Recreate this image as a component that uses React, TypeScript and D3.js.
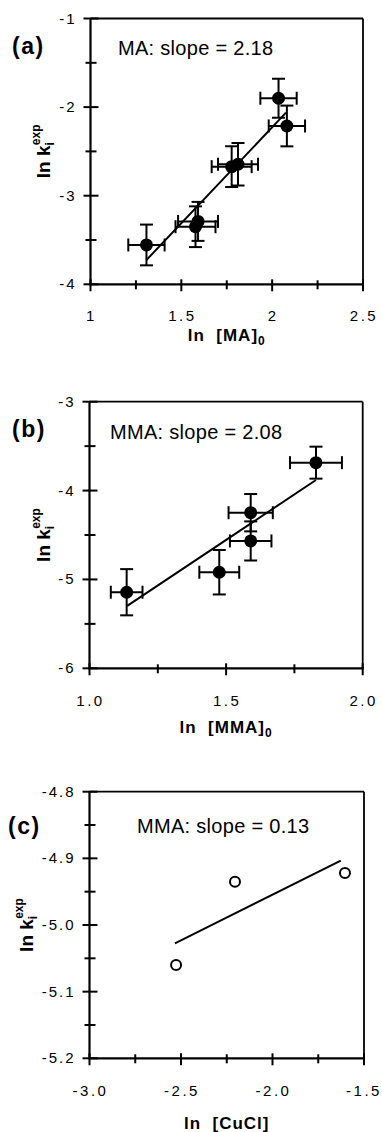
import React from 'react';
import * as d3 from 'd3';

const FONT = "'Liberation Sans', Arial, Helvetica, sans-serif";

// ---------- Panel (a): MA ----------
const aX = [1.308, 1.578, 1.592, 1.777, 1.812, 2.035, 2.081];
const aY = [-3.556, -3.35, -3.29, -2.672, -2.645, -1.9, -2.213];
const aXErr = [0.1, 0.11, 0.11, 0.11, 0.11, 0.1, 0.1];
const aYErr = [0.23, 0.23, 0.22, 0.23, 0.24, 0.22, 0.23];
const aFitX = [1.308, 2.076];
const aFitY = [-3.726, -2.063];
const aXTicks = [1, 1.5, 2, 2.5];
const aXTickLabels = ['1', '1.5', '2', '2.5'];
const aXMinor = [1.25, 1.75, 2.25];
const aYTicks = [-1, -2, -3, -4];
const aYTickLabels = ['-1', '-2', '-3', '-4'];
const aYMinor = [-1.5, -2.5, -3.5];

// ---------- Panel (b): MMA ----------
const bX = [1.136, 1.475, 1.59, 1.59, 1.829];
const bY = [-5.144, -4.919, -4.249, -4.567, -3.686];
const bXErr = [0.058, 0.073, 0.081, 0.076, 0.095];
const bYErr = [0.26, 0.25, 0.21, 0.22, 0.18];
const bFitX = [1.138, 1.829];
const bFitY = [-5.298, -3.881];
const bXTicks = [1.0, 1.5, 2.0];
const bXTickLabels = ['1.0', '1.5', '2.0'];
const bXMinor = [1.25, 1.75];
const bYTicks = [-3, -4, -5, -6];
const bYTickLabels = ['-3', '-4', '-5', '-6'];
const bYMinor = [-3.5, -4.5, -5.5];

// ---------- Panel (c): CuCl ----------
const cX = [-2.527, -2.205, -1.604];
const cY = [-5.06, -4.935, -4.922];
const cFitX = [-2.533, -1.627];
const cFitY = [-5.0275, -4.9035];
const cXTicks = [-3.0, -2.5, -2.0, -1.5];
const cXTickLabels = ['-3.0', '-2.5', '-2.0', '-1.5'];
const cXMinor = [-2.75, -2.25, -1.75];
const cYTicks = [-4.8, -4.9, -5.0, -5.1, -5.2];
const cYTickLabels = ['-4.8', '-4.9', '-5.0', '-5.1', '-5.2'];
const cYMinor = [-4.85, -4.95, -5.05, -5.15];

type PanelProps = {
  left: number; right: number; top: number; bottom: number;
  xDomain: [number, number]; yDomain: [number, number];
  xTicks: number[]; xTickLabels: string[]; xMinor: number[];
  yTicks: number[]; yTickLabels: string[]; yMinor: number[];
  xs: number[]; ys: number[]; xErr?: number[]; yErr?: number[]; open?: boolean;
  fitX: number[]; fitY: number[];
  tag: string; tagX: number; tagY: number;
  note: string; noteX: number; noteY: number;
  xTitleMain: string; xTitleSub?: string; xLabelDy: number; xTitleDy: number;
  yTitleX: number;
};

function Panel(p: PanelProps) {
  const x = d3.scaleLinear().domain(p.xDomain).range([p.left, p.right]);
  const y = d3.scaleLinear().domain(p.yDomain).range([p.bottom, p.top]);
  const pts: [number, number][] = p.fitX.map((v, i) => [v, p.fitY[i]]);
  const line = d3.line<[number, number]>().x(d => x(d[0])).y(d => y(d[1]));
  const cap = 6.5;
  const tickStyle = { stroke: '#000', strokeWidth: 2 };
  return (
    <g>
      {/* frame */}
      <line x1={p.left} x2={p.right} y1={p.top} y2={p.top} stroke="#000" strokeWidth={1.8} />
      <line x1={p.right} x2={p.right} y1={p.top} y2={p.bottom} stroke="#000" strokeWidth={1.8} />
      <line x1={p.left} x2={p.left} y1={p.top} y2={p.bottom + 1} stroke="#000" strokeWidth={2.2} />
      <line x1={p.left - 1} x2={p.right + 1} y1={p.bottom} y2={p.bottom} stroke="#000" strokeWidth={2.2} />
      {/* y ticks */}
      {p.yTicks.map((t, i) => (
        <g key={'yt' + i}>
          <line x1={p.left - 7} x2={p.left + 8} y1={y(t)} y2={y(t)} {...tickStyle} />
          <text x={p.left - 14} y={y(t) + 5} textAnchor="end" fontSize={15} letterSpacing={2} fontFamily={FONT}>{p.yTickLabels[i]}</text>
        </g>
      ))}
      {p.yMinor.map((t, i) => (
        <line key={'ym' + i} x1={p.left - 5} x2={p.left + 6} y1={y(t)} y2={y(t)} {...tickStyle} />
      ))}
      {/* x ticks */}
      {p.xTicks.map((t, i) => (
        <g key={'xt' + i}>
          <line x1={x(t)} x2={x(t)} y1={p.bottom - 5} y2={p.bottom + 7} {...tickStyle} />
          <text x={Math.min(x(t) + 1, 364)} y={p.bottom + p.xLabelDy} textAnchor="middle" fontSize={15} letterSpacing={2.5} fontFamily={FONT}>{p.xTickLabels[i]}</text>
        </g>
      ))}
      {p.xMinor.map((t, i) => (
        <line key={'xm' + i} x1={x(t)} x2={x(t)} y1={p.bottom - 4} y2={p.bottom + 5} {...tickStyle} />
      ))}
      {/* fit line */}
      <path d={line(pts) || ''} fill="none" stroke="#000" strokeWidth={2} />
      {/* error bars */}
      {p.xErr && p.xs.map((v, i) => (
        <g key={'xe' + i} stroke="#000" strokeWidth={2}>
          <line x1={x(v - p.xErr![i])} x2={x(v + p.xErr![i])} y1={y(p.ys[i])} y2={y(p.ys[i])} />
          <line x1={x(v - p.xErr![i])} x2={x(v - p.xErr![i])} y1={y(p.ys[i]) - cap} y2={y(p.ys[i]) + cap} />
          <line x1={x(v + p.xErr![i])} x2={x(v + p.xErr![i])} y1={y(p.ys[i]) - cap} y2={y(p.ys[i]) + cap} />
        </g>
      ))}
      {p.yErr && p.xs.map((v, i) => (
        <g key={'ye' + i} stroke="#000" strokeWidth={2}>
          <line x1={x(v)} x2={x(v)} y1={y(p.ys[i] - p.yErr![i])} y2={y(p.ys[i] + p.yErr![i])} />
          <line x1={x(v) - cap} x2={x(v) + cap} y1={y(p.ys[i] - p.yErr![i])} y2={y(p.ys[i] - p.yErr![i])} />
          <line x1={x(v) - cap} x2={x(v) + cap} y1={y(p.ys[i] + p.yErr![i])} y2={y(p.ys[i] + p.yErr![i])} />
        </g>
      ))}
      {/* points */}
      {p.xs.map((v, i) => (
        p.open
          ? <circle key={'pt' + i} cx={x(v)} cy={y(p.ys[i])} r={5} fill="#fff" stroke="#000" strokeWidth={2} />
          : <circle key={'pt' + i} cx={x(v)} cy={y(p.ys[i])} r={6.5} fill="#000" />
      ))}
      {/* panel tag & note */}
      <text x={p.tagX} y={p.tagY} fontSize={23} fontWeight="bold" letterSpacing={1.5} fontFamily={FONT}>{p.tag}</text>
      <text x={p.noteX} y={p.noteY} fontSize={20} letterSpacing={0.3} fontFamily={FONT}>{p.note}</text>
      {/* x title */}
      <text x={(p.left + p.right) / 2} y={p.bottom + p.xTitleDy} textAnchor="middle" fontSize={17} fontWeight="bold" letterSpacing={1} fontFamily={FONT}>
        {p.xTitleMain}
        {p.xTitleSub ? <tspan fontSize={12} dy={4}>{p.xTitleSub}</tspan> : null}
      </text>
      {/* y title */}
      <text transform={`translate(${p.yTitleX},${(p.top + p.bottom) / 2}) rotate(-90)`} textAnchor="middle" fontWeight="bold" fontFamily={FONT}>
        <tspan fontSize={19}>ln k</tspan>
        <tspan fontSize={12} dy={4}>i</tspan>
        <tspan fontSize={12} dx={-3} dy={-14}>exp</tspan>
      </text>
    </g>
  );
}

export default function App() {
  return (
    <svg width={382} height={1132} style={{ position: 'absolute', left: 0, top: 0, background: '#fff' }}>
      <rect width={382} height={1132} fill="#fff" />
      <Panel
        left={90.5} right={363} top={18.5} bottom={284.3}
        xDomain={[1, 2.5]} yDomain={[-4, -1]}
        xTicks={aXTicks} xTickLabels={aXTickLabels} xMinor={aXMinor}
        yTicks={aYTicks} yTickLabels={aYTickLabels} yMinor={aYMinor}
        xs={aX} ys={aY} xErr={aXErr} yErr={aYErr}
        fitX={aFitX} fitY={aFitY}
        tag="(a)" tagX={12} tagY={54}
        note="MA: slope = 2.18" noteX={118} noteY={55}
        xTitleMain={'ln\u00a0\u00a0[MA]'} xTitleSub="0" xLabelDy={37} xTitleDy={57}
        yTitleX={50}
      />
      <Panel
        left={89.5} right={362.7} top={401.7} bottom={668.3}
        xDomain={[1, 2]} yDomain={[-6, -3]}
        xTicks={bXTicks} xTickLabels={bXTickLabels} xMinor={bXMinor}
        yTicks={bYTicks} yTickLabels={bYTickLabels} yMinor={bYMinor}
        xs={bX} ys={bY} xErr={bXErr} yErr={bYErr}
        fitX={bFitX} fitY={bFitY}
        tag="(b)" tagX={12} tagY={437}
        note="MMA: slope = 2.08" noteX={110} noteY={439}
        xTitleMain={'ln\u00a0\u00a0[MMA]'} xTitleSub="0" xLabelDy={38} xTitleDy={65}
        yTitleX={50}
      />
      <Panel
        left={89.5} right={364} top={791.7} bottom={1058.3}
        xDomain={[-3, -1.5]} yDomain={[-5.2, -4.8]}
        xTicks={cXTicks} xTickLabels={cXTickLabels} xMinor={cXMinor}
        yTicks={cYTicks} yTickLabels={cYTickLabels} yMinor={cYMinor}
        xs={cX} ys={cY} open
        fitX={cFitX} fitY={cFitY}
        tag="(c)" tagX={8} tagY={834}
        note="MMA: slope = 0.13" noteX={137} noteY={833}
        xTitleMain={'ln\u00a0\u00a0[CuCl]'} xLabelDy={38} xTitleDy={71}
        yTitleX={33}
      />
    </svg>
  );
}
